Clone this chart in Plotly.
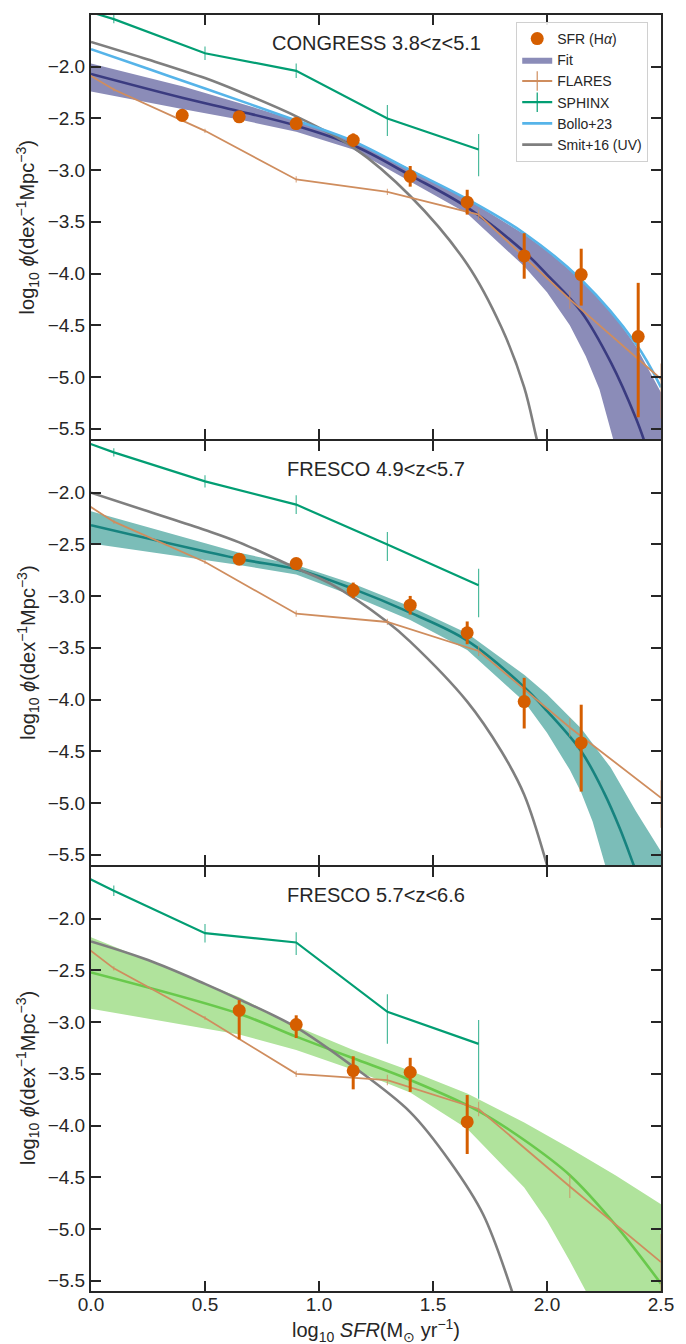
import plotly.graph_objects as go
from plotly.subplots import make_subplots

# ---------------- data ----------------
X_RANGE = [0.0, 2.5]
Y_RANGE = [-5.6, -1.5]
X_TICKS = [0.0, 0.5, 1.0, 1.5, 2.0, 2.5]
Y_TICKS = [-2.0, -2.5, -3.0, -3.5, -4.0, -4.5, -5.0, -5.5]

PANEL_TITLES = ["CONGRESS 3.8&lt;z&lt;5.1", "FRESCO 4.9&lt;z&lt;5.7", "FRESCO 5.7&lt;z&lt;6.6"]

# --- SFR (Halpha) points ---
TOP_SFR_X = [0.4, 0.65, 0.9, 1.15, 1.4, 1.65, 1.9, 2.15, 2.4]
TOP_SFR_Y = [-2.47, -2.485, -2.55, -2.71, -3.06, -3.31, -3.83, -4.01, -4.61]
TOP_SFR_EUP = [0.06, 0.05, 0.06, 0.065, 0.10, 0.12, 0.22, 0.25, 0.52]
TOP_SFR_EDN = [0.06, 0.05, 0.06, 0.065, 0.10, 0.12, 0.22, 0.30, 0.78]

MID_SFR_X = [0.65, 0.9, 1.15, 1.4, 1.65, 1.9, 2.15]
MID_SFR_Y = [-2.643, -2.685, -2.944, -3.088, -3.355, -4.02, -4.42]
MID_SFR_EUP = [0.05, 0.05, 0.075, 0.09, 0.11, 0.23, 0.37]
MID_SFR_EDN = [0.05, 0.05, 0.075, 0.09, 0.11, 0.26, 0.47]

BOT_SFR_X = [0.65, 0.9, 1.15, 1.4, 1.65]
BOT_SFR_Y = [-2.887, -3.024, -3.47, -3.485, -3.965]
BOT_SFR_EUP = [0.10, 0.09, 0.14, 0.14, 0.26]
BOT_SFR_EDN = [0.28, 0.13, 0.18, 0.19, 0.31]

# --- Fit: central curve and band edges ---
TOP_FIT_X = [0.0, 0.4, 0.65, 0.9, 1.15, 1.4, 1.65, 1.9, 2.0, 2.15, 2.28, 2.39, 2.43, 2.47]
TOP_FIT_Y = [-2.07, -2.30, -2.43, -2.57, -2.76, -3.05, -3.36, -3.79, -4.01, -4.37, -4.86, -5.40, -5.64, -5.92]
TOP_UP_X = [0.0, 0.4, 0.65, 0.9, 1.15, 1.4, 1.65, 1.9, 2.0, 2.15, 2.28, 2.39, 2.5]
TOP_UP_Y = [-1.97, -2.19, -2.35, -2.52, -2.72, -2.99, -3.28, -3.62, -3.78, -4.06, -4.36, -4.70, -5.15]
TOP_LO_X = [0.0, 0.4, 0.65, 0.9, 1.15, 1.4, 1.65, 1.9, 2.0, 2.1, 2.17, 2.23, 2.29, 2.34]
TOP_LO_Y = [-2.24, -2.41, -2.51, -2.63, -2.80, -3.11, -3.42, -3.93, -4.18, -4.50, -4.80, -5.12, -5.6, -5.95]

MID_FIT_X = [0.0, 0.65, 0.9, 1.15, 1.4, 1.65, 1.9, 2.0, 2.15, 2.25, 2.32, 2.38, 2.43]
MID_FIT_Y = [-2.315, -2.64, -2.74, -2.93, -3.16, -3.43, -3.88, -4.11, -4.50, -4.90, -5.25, -5.60, -5.90]
MID_UP_X = [0.0, 0.65, 0.9, 1.15, 1.4, 1.65, 1.9, 2.0, 2.15, 2.28, 2.39, 2.5]
MID_UP_Y = [-2.18, -2.58, -2.70, -2.88, -3.10, -3.36, -3.76, -3.95, -4.28, -4.66, -5.08, -5.47]
MID_LO_X = [0.0, 0.65, 0.9, 1.15, 1.4, 1.65, 1.9, 2.0, 2.1, 2.15, 2.2, 2.255, 2.3]
MID_LO_Y = [-2.49, -2.70, -2.79, -3.00, -3.23, -3.52, -4.02, -4.32, -4.68, -4.90, -5.18, -5.6, -5.95]

BOT_FIT_X = [0.0, 0.65, 0.9, 1.15, 1.4, 1.7, 1.9, 2.1, 2.3, 2.5]
BOT_FIT_Y = [-2.52, -2.92, -3.14, -3.35, -3.56, -3.86, -4.14, -4.48, -4.96, -5.53]
BOT_UP_X = [0.0, 0.65, 0.9, 1.15, 1.4, 1.65, 1.9, 2.1, 2.3, 2.5]
BOT_UP_Y = [-2.18, -2.76, -3.04, -3.27, -3.47, -3.69, -3.97, -4.22, -4.48, -4.76]
BOT_LO_X = [0.0, 0.65, 0.9, 1.15, 1.4, 1.65, 1.9, 2.0, 2.1, 2.17, 2.22]
BOT_LO_Y = [-2.87, -3.12, -3.27, -3.46, -3.68, -4.03, -4.60, -4.92, -5.31, -5.6, -5.85]

# --- FLARES ---
FLARES_X = [-0.3, 0.1, 0.5, 0.9, 1.3, 1.7, 2.1, 2.5]
TOP_FLARES_Y = [-1.70, -2.22, -2.62, -3.09, -3.21, -3.43, -4.25, -5.02]
TOP_FLARES_EUP = [0.02, 0.02, 0.02, 0.03, 0.03, 0.05, 0.08, 0.15]
TOP_FLARES_EDN = [0.02, 0.02, 0.02, 0.03, 0.03, 0.05, 0.09, 0.38]
MID_FLARES_Y = [-1.72, -2.28, -2.67, -3.17, -3.25, -3.53, -4.27, -4.95]
MID_FLARES_EUP = [0.02, 0.02, 0.02, 0.03, 0.03, 0.05, 0.09, 0.17]
MID_FLARES_EDN = [0.02, 0.02, 0.02, 0.03, 0.03, 0.05, 0.09, 0.29]
BOT_FLARES_Y = [-1.80, -2.48, -2.96, -3.50, -3.56, -3.84, -4.59, -5.32]
BOT_FLARES_EUP = [0.02, 0.02, 0.02, 0.03, 0.05, 0.07, 0.11, 0.27]
BOT_FLARES_EDN = [0.02, 0.02, 0.02, 0.03, 0.05, 0.07, 0.11, 0.30]

# --- SPHINX ---
SPHINX_X = [-0.3, 0.1, 0.5, 0.9, 1.3, 1.7]
TOP_SPHINX_Y = [-1.27, -1.54, -1.87, -2.04, -2.50, -2.80]
TOP_SPHINX_EUP = [0.03, 0.04, 0.065, 0.07, 0.13, 0.15]
TOP_SPHINX_EDN = [0.03, 0.04, 0.065, 0.07, 0.17, 0.26]
MID_SPHINX_Y = [-1.29, -1.61, -1.89, -2.115, -2.50, -2.895]
MID_SPHINX_EUP = [0.03, 0.04, 0.06, 0.09, 0.12, 0.16]
MID_SPHINX_EDN = [0.03, 0.04, 0.06, 0.09, 0.16, 0.31]
BOT_SPHINX_Y = [-1.29, -1.73, -2.14, -2.23, -2.90, -3.21]
BOT_SPHINX_EUP = [0.03, 0.05, 0.09, 0.10, 0.17, 0.23]
BOT_SPHINX_EDN = [0.03, 0.05, 0.09, 0.12, 0.31, 0.53]

# --- Bollo+23 (top panel only) ---
BOLLO_X = [0.0, 0.25, 0.5, 0.9, 1.15, 1.4, 1.65, 1.9, 2.15, 2.39, 2.5]
BOLLO_Y = [-1.83, -2.02, -2.21, -2.52, -2.72, -3.00, -3.28, -3.61, -4.06, -4.68, -5.10]

# --- Smit+16 (UV) ---
TOP_SMIT_X = [0.0, 0.25, 0.5, 0.65, 0.9, 1.15, 1.4, 1.65, 1.8, 1.9, 1.955, 2.0]
TOP_SMIT_Y = [-1.76, -1.93, -2.11, -2.24, -2.48, -2.78, -3.25, -3.91, -4.52, -5.10, -5.6, -6.0]
MID_SMIT_X = [0.0, 0.25, 0.5, 0.65, 0.9, 1.05, 1.3, 1.4, 1.65, 1.8, 1.9, 2.0, 2.04]
MID_SMIT_Y = [-2.00, -2.18, -2.36, -2.48, -2.73, -2.88, -3.25, -3.44, -4.02, -4.50, -4.92, -5.6, -5.95]
BOT_SMIT_X = [0.0, 0.25, 0.5, 0.65, 0.9, 1.15, 1.4, 1.575, 1.72, 1.846, 1.88]
BOT_SMIT_Y = [-2.22, -2.40, -2.63, -2.78, -3.05, -3.43, -3.87, -4.35, -4.86, -5.6, -5.85]

# ---------------- styles ----------------
FONT = "Liberation Sans, Arial, sans-serif"
TXT = "#262626"
ORANGE = "#d55e00"
SPHINX_C = "#029e73"
FLARES_C = "#cf8d5e"
BOLLO_C = "#56b4e9"
SMIT_C = "#7f7f7f"
FIT_LINE = ["#3a3b80", "#17837f", "#69c94c"]
FIT_FILL = ["#8b8cb8", "#7bbdb8", "#b0e39c"]
SMOOTH = 1.0
AXIS_W = 2
PLOT_H = 1278

panels = [
    dict(sfr=(TOP_SFR_X, TOP_SFR_Y, TOP_SFR_EUP, TOP_SFR_EDN),
         fit=(TOP_FIT_X, TOP_FIT_Y), up=(TOP_UP_X, TOP_UP_Y), lo=(TOP_LO_X, TOP_LO_Y),
         flares=(TOP_FLARES_Y, TOP_FLARES_EUP, TOP_FLARES_EDN),
         sphinx=(TOP_SPHINX_Y, TOP_SPHINX_EUP, TOP_SPHINX_EDN),
         smit=(TOP_SMIT_X, TOP_SMIT_Y), bollo=True),
    dict(sfr=(MID_SFR_X, MID_SFR_Y, MID_SFR_EUP, MID_SFR_EDN),
         fit=(MID_FIT_X, MID_FIT_Y), up=(MID_UP_X, MID_UP_Y), lo=(MID_LO_X, MID_LO_Y),
         flares=(MID_FLARES_Y, MID_FLARES_EUP, MID_FLARES_EDN),
         sphinx=(MID_SPHINX_Y, MID_SPHINX_EUP, MID_SPHINX_EDN),
         smit=(MID_SMIT_X, MID_SMIT_Y), bollo=False),
    dict(sfr=(BOT_SFR_X, BOT_SFR_Y, BOT_SFR_EUP, BOT_SFR_EDN),
         fit=(BOT_FIT_X, BOT_FIT_Y), up=(BOT_UP_X, BOT_UP_Y), lo=(BOT_LO_X, BOT_LO_Y),
         flares=(BOT_FLARES_Y, BOT_FLARES_EUP, BOT_FLARES_EDN),
         sphinx=(BOT_SPHINX_Y, BOT_SPHINX_EUP, BOT_SPHINX_EDN),
         smit=(BOT_SMIT_X, BOT_SMIT_Y), bollo=False),
]

# a gap equal to the axis-line width makes the two boundary lines coincide
fig = make_subplots(rows=3, cols=1, shared_xaxes=True, vertical_spacing=AXIS_W / PLOT_H)

for i, p in enumerate(panels):
    row = i + 1
    ux, uy = p["up"]
    lx, ly = p["lo"]
    floor = Y_RANGE[0] - 1.0
    bx = list(ux) + [X_RANGE[1]] + list(reversed(lx))
    by = list(uy) + [floor] + list(reversed(ly))
    fig.add_trace(go.Scatter(x=bx, y=by, mode="lines", fill="toself",
                             fillcolor=FIT_FILL[i], line=dict(width=0, color=FIT_FILL[i]),
                             name="Fit", showlegend=(i == 0), legendrank=2,
                             hoverinfo="skip"), row=row, col=1)
    fx, fy = p["fit"]
    fig.add_trace(go.Scatter(x=fx, y=fy, mode="lines",
                             line=dict(color=FIT_LINE[i], width=2.6, shape="spline", smoothing=SMOOTH),
                             showlegend=False), row=row, col=1)
    sx, sy = p["smit"]
    fig.add_trace(go.Scatter(x=sx, y=sy, mode="lines",
                             line=dict(color=SMIT_C, width=2.6, shape="spline", smoothing=SMOOTH),
                             showlegend=False), row=row, col=1)
    if p["bollo"]:
        fig.add_trace(go.Scatter(x=BOLLO_X, y=BOLLO_Y, mode="lines",
                                 line=dict(color=BOLLO_C, width=2.6, shape="spline", smoothing=SMOOTH),
                                 showlegend=False), row=row, col=1)
    spy, spu, spd = p["sphinx"]
    fig.add_trace(go.Scatter(x=SPHINX_X, y=spy, mode="lines",
                             line=dict(color=SPHINX_C, width=2.2),
                             error_y=dict(type="data", symmetric=False, array=spu, arrayminus=spd,
                                          color="rgba(2,158,115,0.7)", thickness=1.2, width=0),
                             showlegend=False), row=row, col=1)
    fly, flu, fld = p["flares"]
    fig.add_trace(go.Scatter(x=FLARES_X, y=fly, mode="lines",
                             line=dict(color=FLARES_C, width=1.8),
                             error_y=dict(type="data", symmetric=False, array=flu, arrayminus=fld,
                                          color="rgba(207,141,94,0.7)", thickness=1.2, width=0),
                             showlegend=False), row=row, col=1)
    px, py, pu, pd = p["sfr"]
    fig.add_trace(go.Scatter(x=px, y=py, mode="markers",
                             marker=dict(color=ORANGE, size=13),
                             error_y=dict(type="data", symmetric=False, array=pu, arrayminus=pd,
                                          color=ORANGE, thickness=3, width=0),
                             name="SFR (H<i>α</i>)", showlegend=(i == 0), legendrank=1),
                  row=row, col=1)

# legend-only entries
fig.add_trace(go.Scatter(x=[None], y=[None], mode="lines+markers", name="FLARES",
                         line=dict(color=FLARES_C, width=1.8),
                         marker=dict(symbol="line-ns-open", size=14, color=FLARES_C,
                                     line=dict(width=1.2, color=FLARES_C)),
                         legendrank=3), row=1, col=1)
fig.add_trace(go.Scatter(x=[None], y=[None], mode="lines+markers", name="SPHINX",
                         line=dict(color=SPHINX_C, width=2.2),
                         marker=dict(symbol="line-ns-open", size=14, color=SPHINX_C,
                                     line=dict(width=1.2, color=SPHINX_C)),
                         legendrank=4), row=1, col=1)
fig.add_trace(go.Scatter(x=[None], y=[None], mode="lines", name="Bollo+23",
                         line=dict(color=BOLLO_C, width=2.6), legendrank=5), row=1, col=1)
fig.add_trace(go.Scatter(x=[None], y=[None], mode="lines", name="Smit+16 (UV)",
                         line=dict(color=SMIT_C, width=2.6), legendrank=6), row=1, col=1)

tick_font = dict(family=FONT, size=19, color=TXT)
for r in range(1, 4):
    fig.update_xaxes(range=X_RANGE, tickvals=X_TICKS,
                     ticktext=[f"{v:.1f}" for v in X_TICKS],
                     ticks="inside", ticklen=10, tickwidth=1.6, tickcolor=TXT,
                     showline=True, linecolor=TXT, linewidth=AXIS_W, mirror="allticks",
                     showgrid=False, zeroline=False, tickfont=tick_font,
                     ticklabelstandoff=-5,
                     showticklabels=(r == 3), row=r, col=1)
    fig.update_yaxes(range=Y_RANGE, tickvals=Y_TICKS,
                     ticktext=[f"{v:.1f}".replace("-", "\u2212") for v in Y_TICKS],
                     ticks="inside", ticklen=10, tickwidth=1.6, tickcolor=TXT,
                     showline=True, linecolor=TXT, linewidth=AXIS_W, mirror="allticks",
                     showgrid=False, zeroline=False, tickfont=tick_font, row=r, col=1)

annotations = []
ytitle = "log<sub>10</sub> <i>ϕ</i>(dex<sup>\u22121</sup>Mpc<sup>\u22123</sup>)"
for i in range(3):
    y0 = 1 - (i + 0.5) / 3
    annotations.append(dict(text=ytitle, xref="paper", yref="paper", x=-0.111, y=y0,
                            textangle=-90, showarrow=False, xanchor="center", yanchor="middle",
                            font=dict(family=FONT, size=20, color=TXT)))
title_y = [0.978, 0.6445, 0.3104]
for i in range(3):
    annotations.append(dict(text=PANEL_TITLES[i], xref="paper", yref="paper", x=0.5, y=title_y[i],
                            showarrow=False, xanchor="center", yanchor="middle",
                            font=dict(family=FONT, size=20, color=TXT)))
annotations.append(dict(text="log<sub>10</sub> <i>SFR</i>(M<sub>⊙</sub> yr<sup>\u22121</sup>)",
                        xref="paper", yref="paper", x=0.5, y=-0.031, showarrow=False,
                        xanchor="center", yanchor="middle",
                        font=dict(family=FONT, size=20, color=TXT)))

# the page body adds an 8px offset, so the figure is sized to fill the rest of the window
fig.update_layout(
    width=678, height=1336,
    margin=dict(l=83, r=25, t=5, b=53),
    paper_bgcolor="white", plot_bgcolor="white",
    font=dict(family=FONT, color=TXT),
    annotations=annotations,
    showlegend=True,
    legend=dict(x=0.746, y=0.9945, xanchor="left", yanchor="top",
                bgcolor="rgba(255,255,255,0.9)", bordercolor="#d0d0d0", borderwidth=1,
                font=dict(family=FONT, size=14, color=TXT), itemwidth=30,
                tracegroupgap=0, traceorder="normal"),
)

fig.write_html("out.html")
